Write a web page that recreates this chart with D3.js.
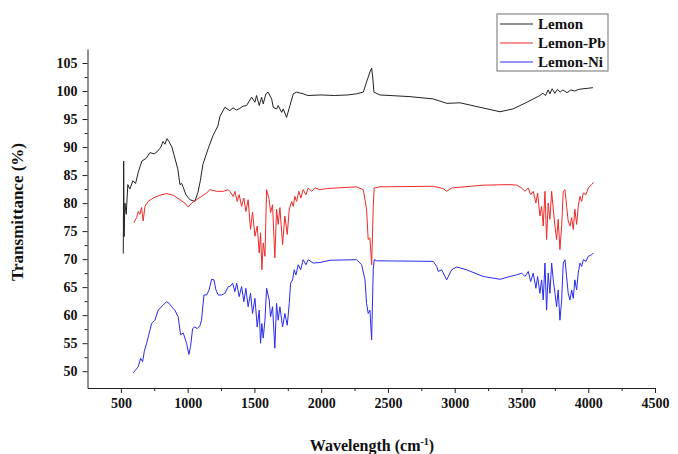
<!DOCTYPE html>
<html>
<head>
<meta charset="utf-8">
<script src="https://cdn.jsdelivr.net/npm/d3@7"></script>
<style>
  body { margin: 0; background: #fff; }
  svg text { font-family: "Liberation Serif", "Times New Roman", serif; font-weight: bold; fill: #111; }
</style>
</head>
<body>
<svg id="chart" width="678" height="454"></svg>
<script>
// series names + colours
var seriesNames = ["Lemon", "Lemon-Pb", "Lemon-Ni"];
var seriesColors = ["#222222", "#ee2a2a", "#2a2aee"];

// tick labels
var xTicks = [500, 1000, 1500, 2000, 2500, 3000, 3500, 4000, 4500];
var xMinor = [750, 1250, 1750, 2250, 2750, 3250, 3750, 4250];
var yTicks = [50, 55, 60, 65, 70, 75, 80, 85, 90, 95, 100, 105];
var yMinor = [52.5, 57.5, 62.5, 67.5, 72.5, 77.5, 82.5, 87.5, 92.5, 97.5, 102.5];

// Lemon: [wavenumber, transmittance]
var lemon = [
  [518, 71], [521, 87.5], [524, 74], [530, 80], [540, 78], [552, 83.3], [567, 82.5],
  [590, 84], [610, 83.5], [630, 85.5], [657, 87.5], [690, 88], [717, 89], [750, 88.8],
  [777, 89.3], [800, 90], [815, 91], [830, 90.5], [845, 91.5], [860, 91], [882, 90],
  [905, 88], [927, 86], [942, 83.3], [955, 83.5], [964, 83], [987, 81.5], [1017, 80.6],
  [1054, 80.3], [1077, 81.9], [1095, 84], [1114, 86.9], [1152, 89.6], [1189, 92],
  [1227, 93.8], [1242, 95.5], [1279, 97.1], [1316, 96.5], [1340, 97], [1365, 96.6],
  [1391, 96.9], [1415, 97.3], [1441, 97.4],
  [1479, 98.9], [1504, 98], [1516, 99.2], [1536, 97.4], [1554, 98.9], [1566, 97.7],
  [1586, 99.5], [1603, 99.8], [1629, 98.6], [1641, 97.1], [1666, 96.8], [1678, 97.4],
  [1704, 96.2], [1716, 96.8], [1741, 95.3], [1766, 97.4], [1791, 99.5], [1816, 99.8],
  [1865, 99.5], [1900, 99.2], [2000, 99.3], [2100, 99.2], [2200, 99.3], [2265, 99.5],
  [2315, 99.8], [2340, 101.6], [2365, 103.4], [2378, 104.1], [2386, 102.5], [2395, 99.8],
  [2440, 99.3], [2665, 99], [2837, 98.6], [2942, 97.8], [3039, 97.9], [3189, 97.1],
  [3339, 96.3], [3436, 96.8], [3541, 98], [3638, 99.2], [3660, 99.6], [3680, 99.2],
  [3700, 100.2], [3713, 99.5], [3730, 100.4], [3750, 99.6], [3770, 100.3], [3790, 99.8],
  [3810, 100.2], [3841, 99.7], [3870, 100.2], [3900, 100], [3930, 100.3], [3961, 100.4],
  [4000, 100.5], [4035, 100.6]
];

// Lemon-Pb
var lemonPb = [
  [597, 76.5], [618, 77.4], [630, 78.5], [642, 78], [655, 79.2], [667, 76.8], [680, 79.4],
  [704, 80.3], [742, 80.9], [792, 81.4], [842, 81.7], [892, 81.4], [942, 80.6], [979, 80],
  [1004, 79.3], [1030, 80], [1067, 80.6], [1104, 81.2], [1142, 81.8], [1167, 82.4],
  [1217, 82.1], [1266, 82.1], [1304, 82.4], [1316, 82.1], [1341, 81.2], [1354, 82.1],
  [1371, 80.3], [1386, 81.5], [1404, 79.4], [1421, 80.9], [1436, 78.5], [1453, 80.6],
  [1471, 75.3], [1486, 78.4], [1504, 74.1], [1521, 75.9], [1536, 71.1], [1546, 74.7],
  [1556, 68.1], [1566, 72.9], [1579, 70.5], [1591, 82.4], [1611, 80.6], [1621, 78.3],
  [1636, 79.7], [1653, 70.2], [1666, 78.9], [1678, 76.2], [1691, 79.2], [1711, 72.6],
  [1728, 77.7], [1746, 74.4], [1761, 78.9], [1779, 80.3], [1791, 79.4], [1803, 81.2],
  [1816, 80.3], [1833, 82.1], [1848, 80.9], [1865, 82.4], [1886, 81.5], [1903, 82.7],
  [1928, 82.1], [1953, 82.7], [1991, 82.4], [2041, 82.6], [2265, 82.9], [2315, 82.4],
  [2340, 78.9], [2352, 73.5], [2365, 73.8], [2378, 69], [2390, 79.4], [2397, 82.7],
  [2440, 82.9], [2839, 83], [2914, 82.6], [2940, 82.1], [2977, 82.7], [3214, 83.2],
  [3414, 83.3], [3464, 83.2], [3501, 82.7], [3526, 82.1], [3551, 82.7], [3569, 81.5],
  [3588, 82.1], [3608, 80], [3621, 81.8], [3638, 77.7], [3651, 79.4], [3663, 75.9],
  [3676, 82.1], [3688, 73.5], [3700, 80], [3713, 77.1], [3726, 82.1], [3738, 78.9],
  [3751, 75.9], [3763, 73.5], [3775, 77.1], [3788, 71.7], [3801, 75.9], [3813, 82.1],
  [3826, 82.4], [3838, 79.4], [3850, 76.8], [3863, 75.9], [3876, 77.4], [3888, 75.3],
  [3900, 78.9], [3913, 76.2], [3925, 79.4], [3938, 81.2], [3951, 80.3], [3963, 81.8],
  [3983, 81.5], [4000, 82.7], [4026, 83.3], [4038, 83.7]
];

// Lemon-Ni
var lemonNi = [
  [592, 49.7], [630, 50.8], [648, 52.3], [663, 51.7], [675, 53.5], [693, 55], [712, 56.8],
  [730, 58.5], [755, 59.1], [779, 60.9], [817, 61.8], [842, 62.4], [862, 62.1], [880, 61.5],
  [904, 60.9], [929, 59.7], [947, 56.5], [967, 56.8], [992, 55], [1009, 53], [1022, 54.4],
  [1037, 57.6], [1054, 57.9], [1071, 57.6], [1092, 58.1], [1104, 59.1], [1122, 63.6],
  [1142, 63.6], [1161, 64.5], [1179, 66.4], [1197, 66.3], [1212, 64.5], [1229, 63.6],
  [1254, 63.6], [1279, 63.9], [1304, 65.1], [1316, 65.1], [1337, 65.7], [1354, 64.2],
  [1367, 65.7], [1386, 63.3], [1404, 65.1], [1421, 62.4], [1436, 64.8], [1453, 61.5],
  [1471, 63.9], [1486, 60.3], [1504, 63], [1521, 57.9], [1536, 60.9], [1546, 55],
  [1556, 58.5], [1566, 55.9], [1579, 59.1], [1591, 64.8], [1611, 62.7], [1621, 59.7],
  [1636, 61.5], [1653, 54.1], [1666, 62.1], [1678, 59.1], [1691, 61.5], [1711, 57.9],
  [1728, 60.3], [1746, 58.2], [1761, 62.1], [1771, 65.7], [1786, 66.3], [1798, 68.1],
  [1811, 67.2], [1828, 69], [1846, 68.1], [1865, 69.9], [1886, 69], [1903, 69.9],
  [1940, 69.3], [1991, 69.4], [2065, 69.8], [2265, 69.9], [2303, 69], [2328, 66.3],
  [2340, 62.1], [2352, 60.3], [2365, 60.9], [2378, 55.6], [2390, 68.1], [2397, 69.9],
  [2415, 69.7], [2839, 69.6], [2865, 68.7], [2877, 67.8], [2902, 68.1], [2940, 66.3],
  [2977, 68.1], [3014, 68.6], [3089, 68.1], [3214, 66.9], [3339, 66.4], [3414, 66.9],
  [3464, 67.2], [3501, 67.5], [3526, 66.9], [3551, 67.8], [3569, 66], [3588, 67.5],
  [3608, 64.8], [3621, 66.9], [3638, 63.9], [3651, 66.3], [3663, 62.7], [3676, 69.3],
  [3688, 60.9], [3700, 67.5], [3713, 63.9], [3726, 69.3], [3738, 66.3], [3751, 63.9],
  [3763, 61.5], [3775, 64.5], [3788, 59.1], [3801, 62.7], [3813, 69.3], [3826, 69.9],
  [3838, 66.9], [3850, 63.9], [3863, 62.7], [3876, 64.5], [3888, 63], [3900, 66.3],
  [3913, 64.5], [3925, 67.5], [3938, 69.3], [3951, 68.7], [3963, 69.9], [3983, 69.6],
  [4000, 70.5], [4026, 70.8], [4038, 71.1]
];

var allSeries = [lemon, lemonPb, lemonNi];

var svg = d3.select("#chart");
svg.append("rect").attr("width", 678).attr("height", 454).attr("fill", "#fff");

// scales
var x = d3.scaleLinear().domain([250, 4500]).range([87.5, 655]);
var y = d3.scaleLinear().domain([47, 107.5]).range([388, 49]);

// x axis (major + minor)
svg.append("g")
    .attr("transform", "translate(0,388)")
    .call(d3.axisBottom(x).tickValues(xTicks).tickFormat(d3.format("d"))
        .tickSize(5).tickSizeOuter(0).tickPadding(5));
svg.append("g")
    .attr("transform", "translate(0,388)")
    .call(d3.axisBottom(x).tickValues(xMinor).tickSize(3).tickFormat(""))
    .select(".domain").remove();

// y axis
svg.append("g")
    .attr("transform", "translate(87.5,0)")
    .call(d3.axisLeft(y).tickValues(yTicks).tickFormat(d3.format("d"))
        .tickSize(5).tickSizeOuter(0).tickPadding(5));
svg.append("g")
    .attr("transform", "translate(87.5,0)")
    .call(d3.axisLeft(y).tickValues(yMinor).tickSize(3).tickFormat(""))
    .select(".domain").remove();

svg.selectAll(".tick text")
    .style("font-size", "14px")
    .style("font-family", "'Liberation Serif', serif")
    .style("font-weight", "bold")
    .attr("fill", "#111");
svg.selectAll(".domain, .tick line").attr("stroke", "#222");

// axis titles
svg.append("text")
    .attr("transform", "translate(23,212) rotate(-90)")
    .attr("text-anchor", "middle")
    .style("font-size", "17px")
    .text("Transmittance (%)");

var xt = svg.append("text")
    .attr("x", 372)
    .attr("y", 451)
    .attr("text-anchor", "middle")
    .style("font-size", "16px");
xt.append("tspan").text("Wavelength (cm");
xt.append("tspan").attr("dy", -6).style("font-size", "10px").text("-1");
xt.append("tspan").attr("dy", 6).text(")");

// spectra
var line = d3.line()
    .x(function (d) { return x(d[0]); })
    .y(function (d) { return y(d[1]); });

svg.append("g").selectAll("path")
    .data(allSeries)
    .enter().append("path")
    .attr("d", line)
    .attr("fill", "none")
    .attr("stroke", function (d, i) { return seriesColors[i]; })
    .attr("stroke-width", 1)
    .attr("stroke-linejoin", "round");

// legend
var legend = svg.append("g").attr("transform", "translate(497,14)");
legend.append("rect")
    .attr("width", 111).attr("height", 57)
    .attr("fill", "#fff").attr("stroke", "#888").attr("stroke-width", 1.2);
var items = legend.selectAll("g.item")
    .data(seriesNames)
    .enter().append("g")
    .attr("class", "item")
    .attr("transform", function (d, i) { return "translate(0," + (10 + i * 19) + ")"; });
items.append("line")
    .attr("x1", 3).attr("x2", 36)
    .attr("stroke", function (d, i) { return seriesColors[i]; })
    .attr("stroke-width", 1);
items.append("text")
    .attr("x", 41).attr("y", 5)
    .style("font-size", "15px")
    .text(function (d) { return d; });
</script>
</body>
</html>
